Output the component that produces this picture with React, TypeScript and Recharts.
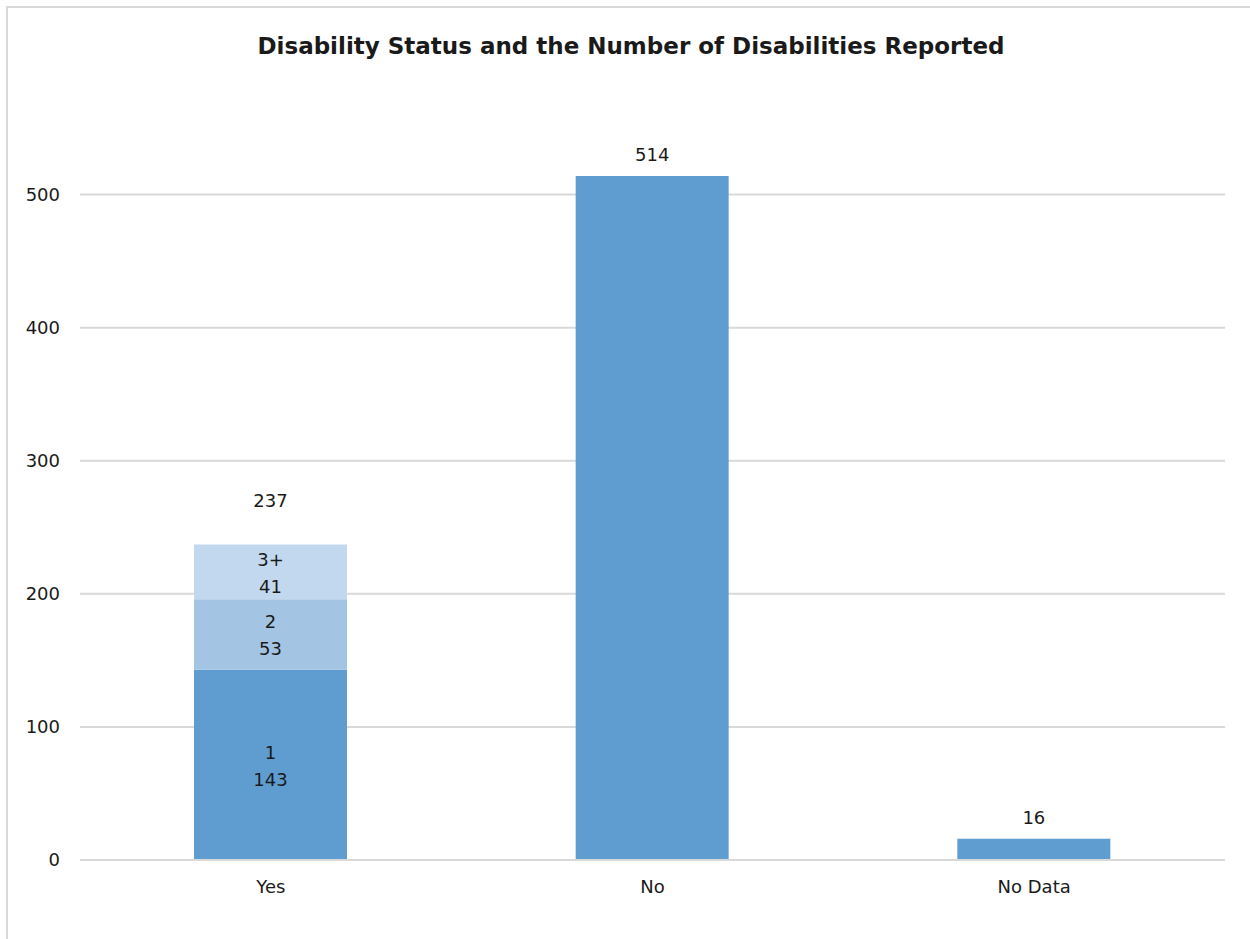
import { BarChart, Bar, XAxis, YAxis, CartesianGrid, LabelList } from 'recharts'

const categories = ['Yes', 'No', 'No Data']
const oneValues = [143, 514, 16]
const twoValues = [53, 0, 0]
const threePlusValues = [41, 0, 0]
const totals = [237, 514, 16]
const segmentNames = ['1', '2', '3+']
const yTicks = [0, 100, 200, 300, 400, 500]

const data = categories.map((name, i) => ({
  name,
  one: oneValues[i],
  two: twoValues[i],
  three: threePlusValues[i],
  total: totals[i],
}))

const FONT = '"DejaVu Sans", sans-serif'
const TEXT = '#1a1a1a'

// two-line "name / value" label centred inside a stacked segment
const segmentLabel = (seg: string, stacked: (i: number) => boolean) => (props: any) => {
  const { x, y, width, height, value, index } = props
  if (!value || !stacked(index)) return null
  const cx = x + width / 2
  const cy = y + height / 2
  return (
    <text x={cx} textAnchor="middle" fontFamily={FONT} fontSize={18} fill={TEXT}>
      <tspan x={cx} y={cy - 6}>{seg}</tspan>
      <tspan x={cx} y={cy + 21}>{value}</tspan>
    </text>
  )
}

const isStacked = (i: number) => twoValues[i] > 0 || threePlusValues[i] > 0

const topLabel = (gap: number, show: (i: number) => boolean) => (props: any) => {
  const { x, y, width, index } = props
  if (!show(index)) return null
  return (
    <text x={x + width / 2} y={y - gap} textAnchor="middle" fontFamily={FONT} fontSize={18} fill={TEXT}>
      {totals[index]}
    </text>
  )
}

export default function App() {
  return (
    <div style={{ position: 'absolute', left: 0, top: 0, width: 1250, height: 939, overflow: 'hidden', background: '#fff' }}>
      <div
        style={{
          position: 'absolute', left: 6, top: 6, width: 1270, height: 960,
          border: '2px solid #d9d9d9', boxSizing: 'border-box',
        }}
      />
      <div
        style={{
          position: 'absolute', left: 6, width: 1250, top: 33, textAlign: 'center',
          fontFamily: FONT, fontWeight: 'bold', fontSize: 23, color: TEXT,
        }}
      >
        Disability Status and the Number of Disabilities Reported
      </div>
      <div style={{ position: 'absolute', left: 0, top: 0 }}>
        <BarChart width={1250} height={939} data={data} margin={{ top: 128, right: 25, bottom: 29, left: 0 }}>
          <CartesianGrid vertical={false} stroke="#d9d9d9" strokeWidth={2} horizontalValues={yTicks} />
          <XAxis
            dataKey="name"
            height={50}
            tickLine={false}
            axisLine={{ stroke: '#d9d9d9', strokeWidth: 2 }}
            tickSize={0}
            tickMargin={20}
            tick={{ fill: TEXT, fontSize: 18, fontFamily: FONT }}
          />
          <YAxis
            width={80}
            domain={[0, 550]}
            ticks={yTicks}
            axisLine={false}
            tickLine={false}
            tickSize={0}
            tickMargin={20}
            tick={{ fill: TEXT, fontSize: 18, fontFamily: FONT }}
          />
          <Bar dataKey="one" stackId="a" fill="#5f9dd1" barSize={153} isAnimationActive={false}>
            <LabelList dataKey="one" content={segmentLabel(segmentNames[0], isStacked)} />
            <LabelList dataKey="one" content={topLabel(15, (i) => !isStacked(i))} />
          </Bar>
          <Bar dataKey="two" stackId="a" fill="#a3c5e3" barSize={153} isAnimationActive={false}>
            <LabelList dataKey="two" content={segmentLabel(segmentNames[1], isStacked)} />
          </Bar>
          <Bar dataKey="three" stackId="a" fill="#c1d8ee" barSize={153} isAnimationActive={false}>
            <LabelList dataKey="three" content={segmentLabel(segmentNames[2], isStacked)} />
            <LabelList dataKey="three" content={topLabel(38, (i) => isStacked(i))} />
          </Bar>
        </BarChart>
      </div>
    </div>
  )
}
